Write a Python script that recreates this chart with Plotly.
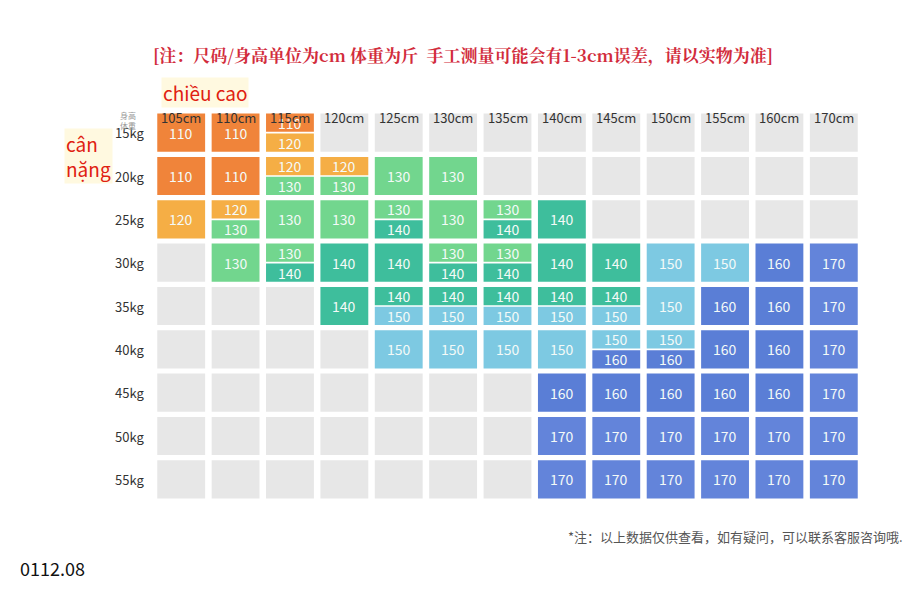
import plotly.graph_objects as go

heights = ["105cm","110cm","115cm","120cm","125cm","130cm","135cm","140cm","145cm","150cm","155cm","160cm","170cm"]
weights = ["15kg","20kg","25kg","30kg","35kg","40kg","45kg","50kg","55kg"]
E = ""
sizes = [
 ["110","110","110/120",E,E,E,E,E,E,E,E,E,E],
 ["110","110","120/130","120/130","130","130",E,E,E,E,E,E,E],
 ["120","120/130","130","130","130/140","130","130/140","140",E,E,E,E,E],
 [E,"130","130/140","140","140","130/140","130/140","140","140","150","150","160","170"],
 [E,E,E,"140","140/150","140/150","140/150","140/150","140/150","150","160","160","170"],
 [E,E,E,E,"150","150","150","150","150/160","150/160","160","160","170"],
 [E,E,E,E,E,E,E,"160","160","160","160","160","170"],
 [E,E,E,E,E,E,E,"170","170","170","170","170","170"],
 [E,E,E,E,E,E,E,"170","170","170","170","170","170"],
]
colors = {"110":"#F0843A","120":"#F5AE45","130":"#72D68E","140":"#3EBE9C",
          "150":"#7DC9E2","160":"#5A7ED6","170":"#6384DA"}
empty_color = "#E7E7E7"

fig = go.Figure()
shapes, ann = [], []
hw, hh = 0.44, 0.44
for r, row in enumerate(sizes):
    for c, v in enumerate(row):
        if not v:
            shapes.append(dict(type="rect", x0=c-hw, x1=c+hw, y0=r-hh, y1=r+hh,
                               fillcolor=empty_color, line_width=0, layer="below"))
            continue
        parts = v.split("/")
        if len(parts) == 1:
            shapes.append(dict(type="rect", x0=c-hw, x1=c+hw, y0=r-hh, y1=r+hh,
                               fillcolor=colors[v], line_width=0, layer="below"))
            ann.append(dict(x=c, y=r, text=v, showarrow=False,
                            font=dict(size=14, color="#F4FAF8")))
        else:
            for k, p in enumerate(parts):
                y0 = r - hh + k*(hh+0.02)
                y1 = y0 + hh - 0.02
                shapes.append(dict(type="rect", x0=c-hw, x1=c+hw, y0=y0, y1=y1,
                                   fillcolor=colors[p], line_width=0, layer="below"))
                ann.append(dict(x=c, y=(y0+y1)/2, text=p, showarrow=False,
                                font=dict(size=14, color="#F4FAF8")))

for c, h in enumerate(heights):
    ann.append(dict(x=c, y=1.0128, yref="paper", text=h, showarrow=False,
                    font=dict(size=13, color="#333")))
for r, w in enumerate(weights):
    ann.append(dict(x=-0.058, xref="paper", y=r, text=w, showarrow=False,
                    font=dict(size=13, color="#333")))
ann.append(dict(x=-0.051, y=1.008, xref="paper", yref="paper", text="身高<br>体重", showarrow=False,
                font=dict(size=8, color="#999")))
ann.append(dict(x=0.437, y=1.182, xref="paper", yref="paper", showarrow=False,
                text="<b>[注：尺码/身高单位为cm 体重为斤  手工测量可能会有1-3cm误差，请以实物为准]</b>",
                font=dict(size=17, color="#D22C3C", family="Noto Serif CJK SC, Noto Sans CJK SC")))
ann.append(dict(x=0.0099, y=1.087, xref="paper", yref="paper", text="chiều cao", showarrow=False,
                bgcolor="#FFF9E0", font=dict(size=19, color="#E02010")))
ann.append(dict(x=-0.127, y=0.956, xref="paper", yref="paper", text="cân<br>nặng", showarrow=False,
                bgcolor="#FFF9E0", align="left", font=dict(size=19, color="#E02010")))
ann.append(dict(x=1.062, y=-0.1205, xref="paper", yref="paper", xanchor="right",
                text="*注：以上数据仅供查看，如有疑问，可以联系客服咨询哦.",
                showarrow=False, font=dict(size=13, color="#555")))
ann.append(dict(x=-0.192, y=-0.21, xref="paper", yref="paper", xanchor="left", text="0112.08",
                showarrow=False, font=dict(size=18, color="#111")))

fig.add_trace(go.Scatter(x=[0], y=[0], mode="markers", marker=dict(opacity=0), hoverinfo="skip"))
fig.update_layout(width=920, height=592, margin=dict(l=146, r=67, t=103, b=99),
                  plot_bgcolor="white", paper_bgcolor="white", showlegend=False,
                  shapes=shapes, annotations=ann,
                  font=dict(family="Noto Sans CJK SC, Noto Sans"),
                  xaxis=dict(range=[-0.5, 12.5], visible=False),
                  yaxis=dict(range=[8.5, -0.5], visible=False))
fig.write_html("out.html")
